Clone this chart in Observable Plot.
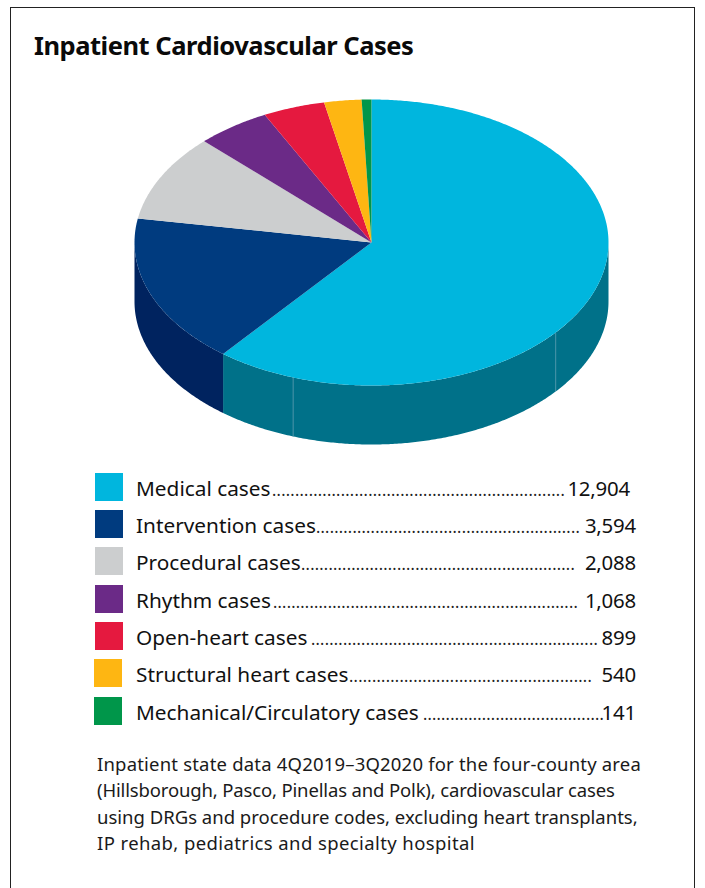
<!DOCTYPE html>
<html><head><meta charset="utf-8">
<script src="https://cdn.jsdelivr.net/npm/d3@7"></script>
<script src="https://cdn.jsdelivr.net/npm/@observablehq/plot@0.6"></script>
<style>
html,body{margin:0;padding:0;background:#fff}
body{position:relative;width:705px;height:888px;overflow:hidden;font-family:"Noto Sans",sans-serif;color:#111}
#frame{position:absolute;left:10px;top:7px;width:683px;height:900px;border:1.5px solid #222}
#title{position:absolute;left:34px;top:28px;font-size:25.5px;font-weight:700;letter-spacing:-0.47px;line-height:34px;white-space:nowrap;color:#0a0a0a}
#pie{position:absolute;left:0;top:90px}
#pie svg{display:block}
.sw{position:absolute;width:28px;height:28px}
.row{position:absolute;left:136px;white-space:nowrap;font-size:20.8px;line-height:30px;height:30px}
.row span{display:inline-block;white-space:nowrap}
.dots{font-size:16px;color:#222}
.num{text-align:right;font-size:20.4px;letter-spacing:-0.2px}
#note{position:absolute;left:97px;top:750.5px;font-size:18.5px;line-height:26.6px;white-space:nowrap;color:#1a1a1a}
#note span{display:block}
</style></head><body>
<div id="frame"></div>
<div id="title">Inpatient Cardiovascular Cases</div>
<div id="pie"></div>
<div id="legend"></div>
<div id="note"><span style="letter-spacing:.19px">Inpatient state data 4Q2019–3Q2020 for the four-county area</span><span style="letter-spacing:-.15px">(Hillsborough, Pasco, Pinellas and Polk), cardiovascular cases</span><span>using DRGs and procedure codes, excluding heart transplants,</span><span style="letter-spacing:.4px">IP rehab, pediatrics and specialty hospital</span></div>
<script>
const categories = ["Medical cases","Intervention cases","Procedural cases","Rhythm cases","Open-heart cases","Structural heart cases","Mechanical/Circulatory cases"];
const cases = [12904,3594,2088,1068,899,540,141];
const topColors = ["#00b6de","#003b7f","#cccecf","#6b2a87","#e5193f","#feb612","#00964a"];
const wallNames = ["Medical wall","Intervention wall"];
const wallColors = ["#007189","#00235f"];
const seamAngles = [129,199.3];

// legend layout (pixels): swatch x, swatch y, dot start, dot end, number right edge
const swatchX = [95,95,95,95,95,94,94];
const swatchY = [473,510,547,585,622,659,697];
const dotStart = [272,316,301,273,311,349,423];
const dotEnd = [565,580,575,578,598,592,604];
const numRight = [630,636,636,636,636,636,636];

const total = d3.sum(cases);
const ends = Array.from(d3.cumsum(cases), v => v/total*360);
const starts = [0, ...ends.slice(0,-1)];
const rad = a => a*Math.PI/180;
const depth = 59/143;
const rim = (a,drop=0) => ({x:Math.sin(rad(a)), y:Math.cos(rad(a))-drop});
const arcAngles = (a,b) => { const n=Math.max(2,Math.ceil((b-a)/0.5)); return d3.range(n+1).map(i=>a+(b-a)*i/n); };

const tops = categories.flatMap((name,i)=>[
  {name,x:0,y:0},
  ...arcAngles(starts[i],ends[i]).map(a=>({name,...rim(a)}))
]);
const wallRange = [[90,ends[0]],[ends[0],270]];
const walls = wallNames.flatMap((name,i)=>{
  const [a,b]=wallRange[i], as=arcAngles(a,b);
  return [...as.map(t=>({name,...rim(t)})), ...as.slice().reverse().map(t=>({name,...rim(t,depth)}))];
});
const seams = seamAngles.map(a=>({x:rim(a).x,y1:rim(a).y,y2:rim(a,depth).y}));

const plot = Plot.plot({
  width:705,height:360,margin:0,
  x:{domain:[-1,1],range:[134,608],axis:null},
  y:{domain:[1,-1],range:[9,295],axis:null},
  color:{domain:[...categories,...wallNames],range:[...topColors,...wallColors]},
  marks:[
    Plot.line(walls,{x:"x",y:"y",z:"name",fill:"name",stroke:null}),
    Plot.link(seams,{x1:"x",x2:"x",y1:"y1",y2:"y2",stroke:"#5f9fb2",strokeWidth:0.8}),
    Plot.line(tops,{x:"x",y:"y",z:"name",fill:"name",stroke:null})
  ]
});
document.getElementById("pie").appendChild(plot);

const legend=document.getElementById("legend");
const ctx=document.createElement("canvas").getContext("2d");
ctx.font='16px "Noto Sans"';
const dotW=ctx.measureText(".").width, basePitch=4.55;
categories.forEach((c,i)=>{
  const s=document.createElement("div");s.className="sw";
  s.style.left=swatchX[i]+"px";s.style.top=swatchY[i]+"px";s.style.background=topColors[i];legend.appendChild(s);
  const r=document.createElement("div");r.className="row";r.style.top=swatchY[i]+"px";
  const lab=document.createElement("span");lab.textContent=c;lab.style.width=(dotStart[i]-136)+"px";
  const dots=document.createElement("span");dots.className="dots";
  const span=dotEnd[i]-dotStart[i];
  const n=Math.round(span/basePitch);
  dots.textContent=".".repeat(n);dots.style.letterSpacing=(span/n-dotW)+"px";dots.style.width=(numRight[i]-dotStart[i]-70)+"px";
  const num=document.createElement("span");num.className="num";num.textContent=d3.format(",")(cases[i]);num.style.width="70px";
  r.append(lab,dots,num);legend.appendChild(r);
});
</script>
</body></html>
